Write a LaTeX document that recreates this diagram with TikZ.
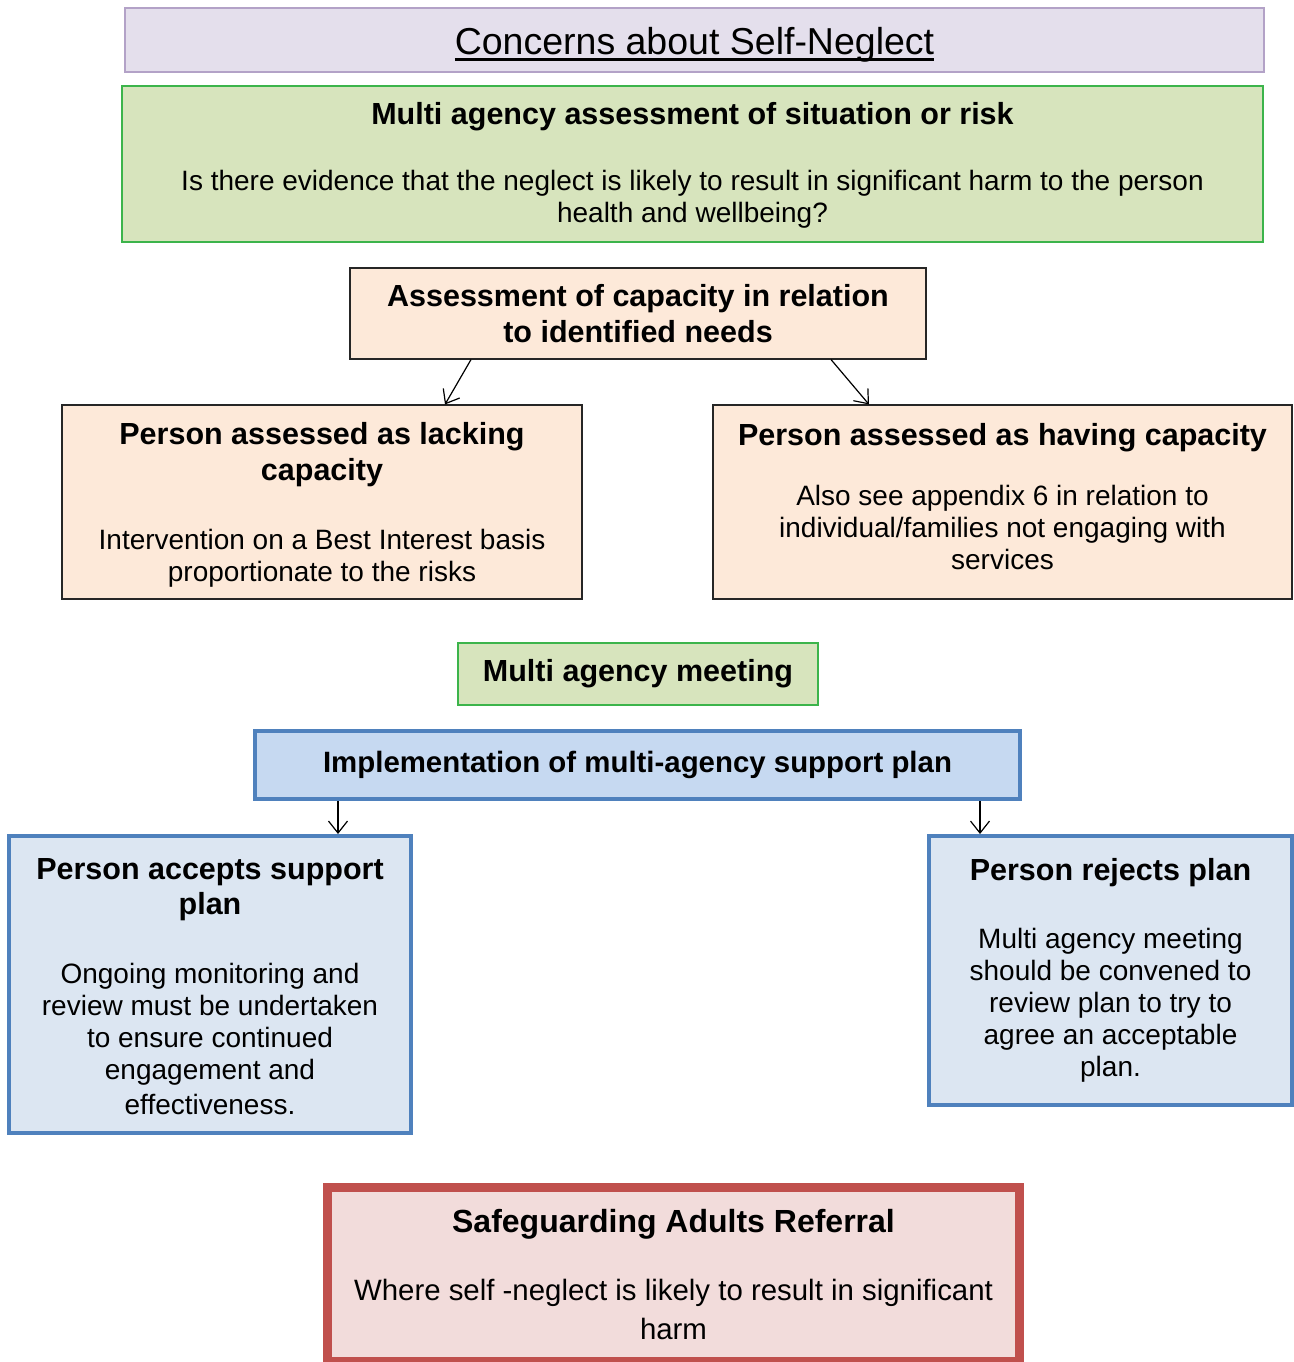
\documentclass[tikz,border=0pt]{standalone}
\usepackage{fontspec}
\setmainfont{Liberation Sans}
\usetikzlibrary{arrows.meta}
\definecolor{lav}{HTML}{E4DFEC}
\definecolor{lavb}{HTML}{B3A2C7}
\definecolor{grf}{HTML}{D7E4BD}
\definecolor{grb}{HTML}{3CB44B}
\definecolor{pch}{HTML}{FDE9D9}
\definecolor{blf}{HTML}{C6D9F1}
\definecolor{blf2}{HTML}{DCE6F2}
\definecolor{blb}{HTML}{4F81BD}
\definecolor{rdf}{HTML}{F2DCDB}
\definecolor{rdb}{HTML}{C0504D}
\newcommand{\hd}{\fontsize{30.5}{32}\selectfont\bfseries}
\newsavebox{\ulsave}
\newcommand{\thickul}[1]{\sbox{\ulsave}{#1}\rlap{\rule[-6.3pt]{\wd\ulsave}{2.8pt}}\usebox{\ulsave}}
\tikzset{
  box/.style={rectangle, inner sep=0pt, align=center, font=\fontsize{28}{32}\selectfont},
  titlebox/.style={box, fill=lav, draw=lavb, line width=1.5pt, font=\fontsize{37.5}{40}\selectfont},
  greenbox/.style={box, fill=grf, draw=grb, line width=1.2pt},
  peachbox/.style={box, fill=pch, draw=black!85, line width=1.1pt},
  bluebox/.style={box, fill=blf, draw=blb, line width=4pt},
  lbluebox/.style={box, fill=blf2, draw=blb, line width=4pt},
  redbox/.style={box, fill=rdf, draw=rdb, line width=9pt, font=\fontsize{29.4}{32}\selectfont},
  arr/.style={-{Straight Barb[length=12pt,width=19pt]}, line width=1.2pt, black}
}
\begin{document}
\begin{tikzpicture}[x=1pt,y=-1pt]
\useasboundingbox[fill=white] (0,0) rectangle (1293,1362);

\node[titlebox, minimum width=1139pt, minimum height=64pt, text height=30pt, text depth=0pt] (title) at (694.5,40)
  {\thickul{Concerns about Self-Neglect}};

\node[greenbox, minimum width=1141pt, minimum height=156pt] (assessrisk) at (692.5,164)
  {\mbox{}\\[-6.2pt]
   {\hd Multi agency assessment of situation or risk}\\[34pt]
   Is there evidence that the neglect is likely to result in significant harm to the person\\
   health and wellbeing?};

\node[peachbox, minimum width=576pt, minimum height=91pt] (capacity) at (638,313.5)
  {{\hd Assessment of capacity in relation}\\[4pt]{\hd to identified needs}};

\node[peachbox, minimum width=520pt, minimum height=194pt] (lacking) at (322,502)
  {\mbox{}\\[-4.2pt]
   {\hd Person assessed as lacking}\\[4pt]
   {\hd capacity}\\[37pt]
   Intervention on a Best Interest basis\\
   proportionate to the risks};

\node[peachbox, minimum width=579pt, minimum height=194pt] (having) at (1002.5,502)
  {{\hd Person assessed as having capacity}\\[28pt]
   Also see appendix 6 in relation to\\
   individual/families not engaging with\\
   services\\[-20pt]\mbox{}};

\node[greenbox, minimum width=360pt, minimum height=62pt] (meeting) at (638,674)
  {\hd Multi agency meeting};

\node[bluebox, minimum width=765pt, minimum height=68pt] (impl) at (637.5,765)
  {\fontsize{29.4}{32}\selectfont\bfseries Implementation of multi-agency support plan};

\node[lbluebox, minimum width=402pt, minimum height=297pt] (accepts) at (210,984.5)
  {\mbox{}\\[-6.2pt]
   {\hd Person accepts support}\\[3pt]
   {\hd plan}\\[37pt]
   Ongoing monitoring and\\
   review must be undertaken\\
   to ensure continued\\
   engagement and\\[3pt]
   effectiveness.};

\node[lbluebox, minimum width=363pt, minimum height=269pt] (rejects) at (1110.5,970.5)
  {{\hd Person rejects plan}\\[36pt]
   Multi agency meeting\\
   should be convened to\\
   review plan to try to\\
   agree an acceptable\\
   plan.};

\node[redbox, minimum width=692pt, minimum height=174pt] (referral) at (673.5,1274.5)
  {{\fontsize{32}{32}\selectfont\bfseries Safeguarding Adults Referral}\\[36pt]
   Where self -neglect is likely to result in significant\\[7pt]
   harm};

\draw[arr] ([xshift=-167pt]capacity.south) -- ([xshift=123pt]lacking.north);
\draw[arr] ([xshift=193pt]capacity.south) -- ([xshift=-133.5pt]having.north);
\draw[arr] ([xshift=-299.5pt]impl.south) -- ([xshift=128pt]accepts.north);
\draw[arr] ([xshift=342.5pt]impl.south) -- ([xshift=-130.5pt]rejects.north);
\end{tikzpicture}
\end{document}
